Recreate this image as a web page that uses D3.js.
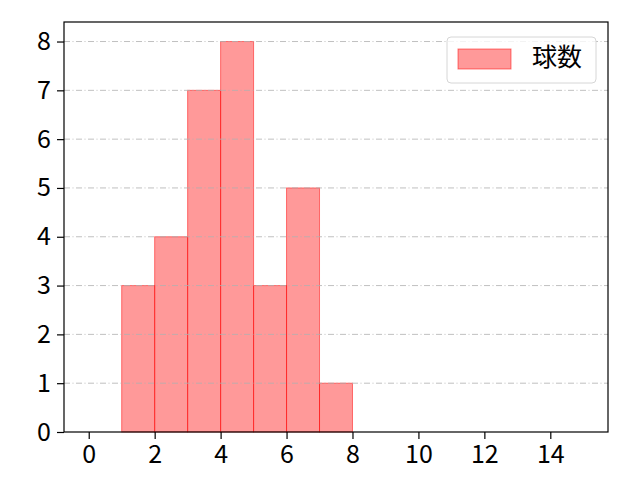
<!DOCTYPE html>
<html>
<head>
<meta charset="utf-8">
<script src="https://cdn.jsdelivr.net/npm/d3@7"></script>
<style>
  body { margin: 0; background: #fff; }
  text { font-family: "Noto Sans CJK JP", "DejaVu Sans", sans-serif; }
</style>
</head>
<body>
<script>
// histogram bins and counts
const binStarts = [1, 2, 3, 4, 5, 6, 7];
const counts = [3, 4, 7, 8, 3, 5, 1];
const binWidth = 1;
const xTicks = [0, 2, 4, 6, 8, 10, 12, 14];
const yTicks = [0, 1, 2, 3, 4, 5, 6, 7, 8];
const seriesName = "球数";

const width = 640, height = 480;
const margin = {left: 64, right: 32, top: 22, bottom: 48};

const svg = d3.select("body").append("svg")
    .attr("width", width)
    .attr("height", height);

const x = d3.scaleLinear()
    .domain([-0.75, 15.75])
    .range([margin.left, width - margin.right]);

const y = d3.scaleLinear()
    .domain([0, 8.4])
    .range([height - margin.bottom, margin.top]);

// bars
svg.append("g").selectAll("rect")
    .data(binStarts)
    .join("rect")
    .attr("x", (d) => x(d))
    .attr("y", (d, i) => y(counts[i]))
    .attr("width", (d) => x(d + binWidth) - x(d))
    .attr("height", (d, i) => y(0) - y(counts[i]))
    .attr("fill", "rgba(255,0,0,0.4)")
    .attr("stroke", "rgba(255,0,0,0.5)")
    .attr("stroke-width", 1);

// grid lines over the bars
svg.append("g").selectAll("line")
    .data(yTicks.slice(1))
    .join("line")
    .attr("x1", margin.left)
    .attr("x2", width - margin.right)
    .attr("y1", (d) => y(d))
    .attr("y2", (d) => y(d))
    .attr("stroke", "#b0b0b0")
    .attr("stroke-width", 0.8)
    .attr("stroke-dasharray", "6,2.5,1,2.5");

// axes
const xAxis = svg.append("g")
    .attr("transform", `translate(0,${height - margin.bottom})`)
    .call(d3.axisBottom(x).tickValues(xTicks).tickSize(7).tickPadding(6));
const yAxis = svg.append("g")
    .attr("transform", `translate(${margin.left},0)`)
    .call(d3.axisLeft(y).tickValues(yTicks).tickSize(7).tickPadding(6));

[xAxis, yAxis].forEach((a) => {
  a.select(".domain").remove();
  a.selectAll(".tick line").attr("stroke", "#000").attr("stroke-width", 1.2);
  a.selectAll(".tick text").attr("fill", "#000").style("font-size", "25px");
});

// frame
svg.append("rect")
    .attr("x", margin.left)
    .attr("y", margin.top)
    .attr("width", width - margin.left - margin.right)
    .attr("height", height - margin.top - margin.bottom)
    .attr("fill", "none")
    .attr("stroke", "#000")
    .attr("stroke-width", 1.2);

// legend
const lg = svg.append("g").attr("transform", "translate(447,37)");
lg.append("rect")
    .attr("width", 149).attr("height", 46)
    .attr("rx", 4)
    .attr("fill", "rgba(255,255,255,0.8)")
    .attr("stroke", "#d6d6d6");
lg.append("rect")
    .attr("x", 11).attr("y", 12)
    .attr("width", 53).attr("height", 20)
    .attr("fill", "rgba(255,0,0,0.4)")
    .attr("stroke", "rgba(255,0,0,0.5)");
lg.append("text")
    .attr("x", 85).attr("y", 29)
    .style("font-size", "25px")
    .text(seriesName);
</script>
</body>
</html>
